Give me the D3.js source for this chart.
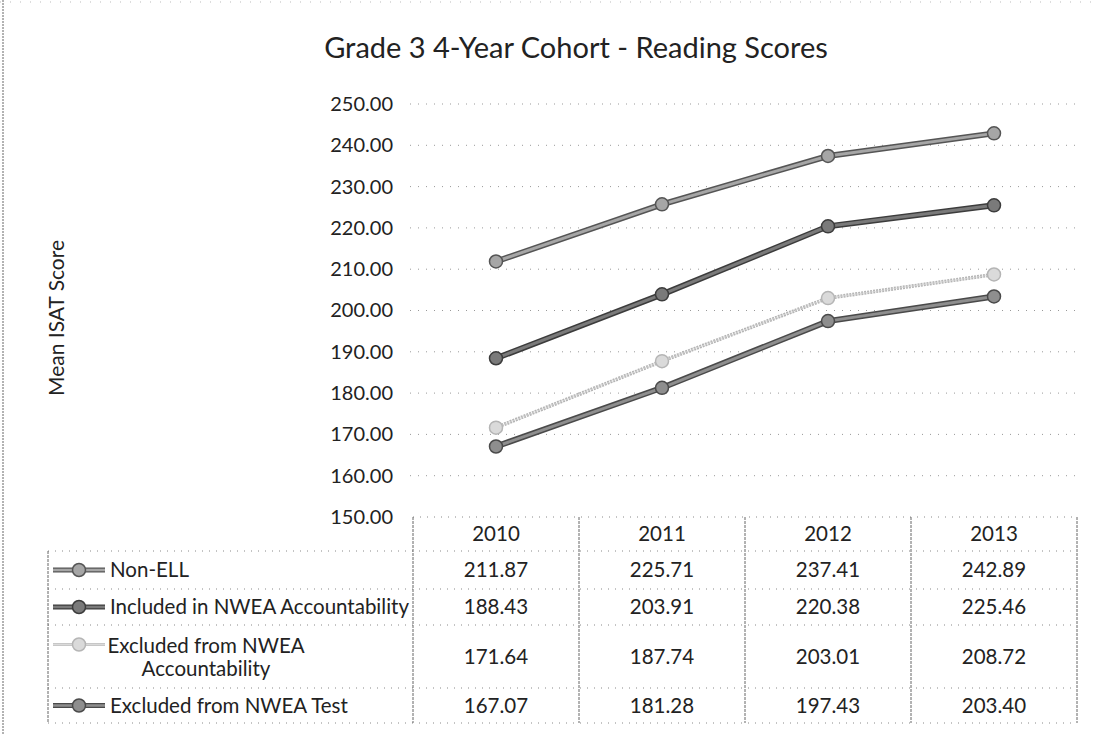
<html>
<head>
  <meta charset="utf-8" />
  <script src="https://cdnjs.cloudflare.com/ajax/libs/d3/7.8.5/d3.min.js"></script>
  <style>
    body { margin: 0; background: #fff; }
    text { font-family: Lato, "Open Sans", sans-serif; fill: #222; }
  </style>
</head>
<body>
  <svg></svg>
  <script>
  var years = ["2010", "2011", "2012", "2013"]
  var seriesNames = ["Non-ELL", "Included in NWEA Accountability", "Excluded from NWEA Accountability", "Excluded from NWEA Test"]
  var nonEll = [211.87, 225.71, 237.41, 242.89]
  var included = [188.43, 203.91, 220.38, 225.46]
  var excludedAcc = [171.64, 187.74, 203.01, 208.72]
  var excludedTest = [167.07, 181.28, 197.43, 203.40]
  var yTicks = [150, 160, 170, 180, 190, 200, 210, 220, 230, 240, 250]

  var seriesValues = [nonEll, included, excludedAcc, excludedTest]
  // casing (dark edge) + inner colour, scanned look
  var casing = ["#555", "#3c3c3c", "#b5b5b5", "#4a4a4a"]
  var inner = ["#a6a6a6", "#7a7a7a", "#dadada", "#8e8e8e"]
  var widths = [4.5, 4.5, 2.2, 4.5]

  var W = 1093, H = 735
  var svg = d3.select("svg").attr("width", W).attr("height", H)

  var x = d3.scaleBand().domain(years).range([413, 1077])
  var y = d3.scaleLinear().domain([150, 250]).range([517, 104])

  // outer frame (dotted left/top edge of the scan)
  svg.append("line").attr("x1", 3).attr("x2", 3).attr("y1", 0).attr("y2", H)
    .attr("stroke", "#666").attr("stroke-dasharray", "2,1")
  svg.append("line").attr("x1", 0).attr("x2", W).attr("y1", 2).attr("y2", 2)
    .attr("stroke", "#bbb").attr("stroke-dasharray", "1,9")

  // title
  svg.append("text").attr("x", 576).attr("y", 58).attr("text-anchor", "middle")
    .style("font-size", "29px").text("Grade 3 4-Year Cohort - Reading Scores")

  // y axis title
  svg.append("text").attr("transform", "translate(64,318) rotate(-90)")
    .attr("text-anchor", "middle").style("font-size", "21px").text("Mean ISAT Score")

  // gridlines
  svg.append("g").selectAll("line").data(yTicks.slice(1)).join("line")
    .attr("x1", 410).attr("x2", 1080)
    .attr("y1", d => y(d)).attr("y2", d => y(d))
    .attr("stroke", "#999").attr("stroke-width", 1).attr("stroke-dasharray", "1,7")

  // y axis labels
  var yAxis = d3.axisLeft(y).tickValues(yTicks).tickFormat(d3.format(".2f")).tickSize(0).tickPadding(0)
  var gy = svg.append("g").attr("transform", "translate(393,0)").call(yAxis)
  gy.select(".domain").remove()
  gy.selectAll("text").style("font-size", "20px").style("font-family", "Lato, sans-serif").attr("fill", "#222")

  // lines and markers
  var line = d3.line().x((d, i) => x(years[i]) + x.bandwidth() / 2).y(d => y(d))
  // draw lightest series first
  var order = [2, 3, 1, 0]
  order.forEach(s => {
    var g = svg.append("g")
    g.append("path").attr("d", line(seriesValues[s])).attr("fill", "none")
      .attr("stroke", casing[s]).attr("stroke-width", widths[s] + 1.5)
      .attr("stroke-dasharray", s == 2 ? "2,1" : null)
    g.append("path").attr("d", line(seriesValues[s])).attr("fill", "none")
      .attr("stroke", inner[s]).attr("stroke-width", widths[s] - 1.5)
    g.selectAll("circle").data(seriesValues[s]).join("circle")
      .attr("cx", (d, i) => x(years[i]) + x.bandwidth() / 2).attr("cy", d => y(d))
      .attr("r", 6.5).attr("fill", inner[s]).attr("stroke", casing[s]).attr("stroke-width", 1.5)
  })

  // data table
  var rowTops = [517, 551, 589, 625, 688, 723]
  var tableLine = "#666"
  var fs = "20.5px"
  // header row: year labels
  svg.append("g").selectAll("text").data(years).join("text")
    .attr("x", d => x(d) + x.bandwidth() / 2).attr("y", (rowTops[0] + rowTops[1]) / 2 + 7)
    .attr("text-anchor", "middle").style("font-size", fs).text(d => d)

  // horizontal dotted lines
  rowTops.forEach((t, i) => {
    svg.append("line").attr("x1", i == 0 ? 413 : 48).attr("x2", 1077)
      .attr("y1", t).attr("y2", t)
      .attr("stroke", "#888").attr("stroke-dasharray", "1,6")
  })
  // vertical column lines
  var cols = years.map(d => x(d)).concat([x.range()[1]])
  cols.forEach(c => {
    svg.append("line").attr("x1", c).attr("x2", c).attr("y1", rowTops[0]).attr("y2", rowTops[5])
      .attr("stroke", tableLine).attr("stroke-dasharray", "3,1")
  })
  svg.append("line").attr("x1", 48).attr("x2", 48).attr("y1", rowTops[1]).attr("y2", rowTops[5])
    .attr("stroke", tableLine).attr("stroke-dasharray", "3,1")

  seriesNames.forEach((name, s) => {
    var top = rowTops[s + 1], bot = rowTops[s + 2], mid = (top + bot) / 2
    // legend key
    var keyY = s == 2 ? mid - 12 : mid
    svg.append("line").attr("x1", 53).attr("x2", 105).attr("y1", keyY).attr("y2", keyY)
      .attr("stroke", casing[s]).attr("stroke-width", widths[s] + 0.5)
    svg.append("line").attr("x1", 53).attr("x2", 105).attr("y1", keyY).attr("y2", keyY)
      .attr("stroke", inner[s]).attr("stroke-width", Math.max(widths[s] - 2, 1))
    svg.append("circle").attr("cx", 79).attr("cy", keyY).attr("r", 6.5)
      .attr("fill", inner[s]).attr("stroke", casing[s]).attr("stroke-width", 1.5)
    // label
    if (s == 2) {
      svg.append("text").attr("x", 206).attr("y", mid - 4).attr("text-anchor", "middle")
        .style("font-size", fs).text("Excluded from NWEA")
      svg.append("text").attr("x", 206).attr("y", mid + 19).attr("text-anchor", "middle")
        .style("font-size", fs).text("Accountability")
    } else {
      svg.append("text").attr("x", 110).attr("y", mid + 7).style("font-size", fs).text(name)
    }
    // values
    svg.append("g").selectAll("text").data(seriesValues[s]).join("text")
      .attr("x", (d, i) => x(years[i]) + x.bandwidth() / 2).attr("y", mid + 7)
      .attr("text-anchor", "middle").style("font-size", fs).text(d => d.toFixed(2))
  })
  </script>
</body>
</html>
